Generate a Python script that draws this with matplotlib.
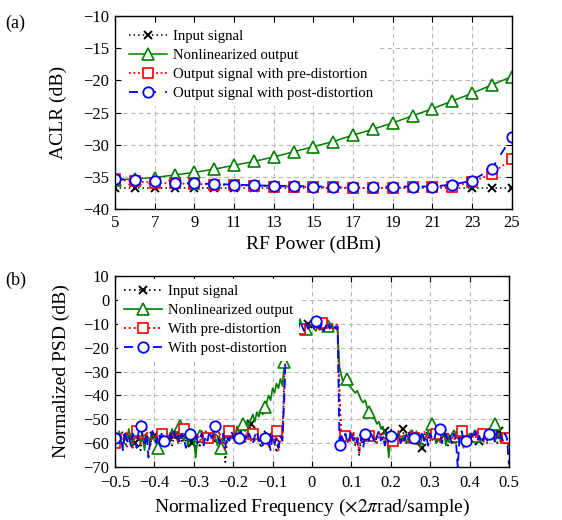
import matplotlib
matplotlib.use('Agg')
import matplotlib.pyplot as plt
import numpy as np

plt.rcParams['font.family'] = ['Liberation Serif', 'DejaVu Serif']
plt.rcParams['mathtext.fontset'] = 'stix'

# ---- (a) ACLR vs RF power ----
rf_power = list(range(5, 26))
aclr_input = [-36.8] * 21
aclr_nonlin = [-35.5, -35.3, -35.1, -34.7, -34.3, -33.8, -33.2, -32.6, -31.9, -31.1, -30.3,
               -29.5, -28.5, -27.6, -26.6, -25.5, -24.4, -23.2, -22.0, -20.7, -19.4]
aclr_pre = [-35.4, -35.7, -35.9, -36.0, -36.1, -36.2, -36.3, -36.4, -36.5, -36.5, -36.6,
            -36.6, -36.7, -36.7, -36.7, -36.6, -36.6, -36.5, -35.8, -34.5, -32.2]
aclr_post = [-35.3, -35.5, -35.7, -35.9, -36.0, -36.1, -36.2, -36.3, -36.4, -36.4, -36.5,
             -36.5, -36.6, -36.5, -36.5, -36.5, -36.5, -36.2, -35.6, -33.7, -28.8]

# ---- (b) PSD, 201 bins from -0.5 to 0.5 ----
freq = np.linspace(-0.5, 0.5, 201)
psd_input = [
    -58, -56, -61, -57, -55, -59, -62, -56, -58, -57,
    -60, -55, -58, -63, -57, -56, -59, -58, -61, -56,
    -57, -59, -55, -58, -60, -56, -54, -59, -57, -61,
    -57, -55, -58, -56, -60, -57, -59, -55, -58, -60,
    -56, -58, -57, -62, -55, -59, -57, -58, -56, -58,
    -55, -60, -57, -59, -64, -56, -68, -58, -55, -57,
    -55, -58, -56, -59, -54, -57, -60, -56, -55, -52,
    -57, -59, -56, -58, -62, -57, -55, -59, -57, -58,
    -56, -60, -64, -58, -57, -59, -30, -12, -12, -11,
    -13, -10, -12, -11, -9, -12, -10, -11, -10, -12,
    -9, -11, -12, -10, -11, -13, -10, -11, -9, -12,
    -10, -11, -12, -12, -38, -58, -56, -57, -60, -55,
    -58, -56, -61, -59, -65, -57, -58, -57, -55, -59,
    -57, -56, -60, -58, -55, -57, -59, -55, -58, -56,
    -54, -58, -57, -59, -56, -55, -54, -58, -60, -57,
    -56, -59, -57, -61, -58, -60, -62, -57, -55, -58,
    -57, -59, -56, -58, -60, -55, -56, -58, -57, -61,
    -56, -58, -59, -57, -60, -57, -55, -58, -62, -56,
    -58, -57, -60, -56, -58, -59, -57, -60, -56, -58,
    -57, -59, -56, -58, -60, -55, -57, -59, -56, -58,
    -62]
psd_nonlin = [
    -57, -60, -55, -58, -62, -56, -59, -54, -58, -61,
    -56, -58, -55, -60, -57, -63, -56, -59, -58, -55,
    -59, -57, -62, -56, -60, -58, -55, -59, -57, -54,
    -58, -56, -60, -53, -57, -59, -55, -61, -58, -56,
    -59, -66, -57, -57, -55, -60, -58, -56, -59, -57,
    -55, -58, -61, -57, -62, -56, -58, -55, -59, -56,
    -55, -57, -53, -56, -54, -52, -55, -51, -53, -50,
    -48, -51, -47, -49, -46, -48, -45, -43, -40, -42,
    -37, -39, -35, -37, -33, -36, -26, -12, -13, -11,
    -12, -10, -13, -11, -8, -12, -11, -12, -13, -11,
    -10, -12, -13, -11, -12, -10, -13, -11, -11, -12,
    -10, -12, -11, -13, -28, -32, -35, -34, -33, -36,
    -37, -38, -39, -38, -40, -42, -43, -42, -45, -47,
    -46, -49, -50, -52, -51, -54, -53, -56, -57, -66,
    -57, -59, -56, -58, -55, -60, -57, -59, -56, -58,
    -57, -57, -60, -55, -58, -62, -56, -59, -57, -55,
    -58, -52, -57, -60, -56, -59, -58, -55, -61, -57,
    -59, -56, -57, -60, -58, -56, -59, -62, -57, -58,
    -56, -59, -57, -57, -60, -58, -55, -59, -57, -56,
    -58, -55, -57, -52, -58, -56, -60, -57, -59, -58,
    -61]
psd_pre = [
    -60, -57, -59, -56, -61, -58, -55, -59, -57, -62,
    -58, -55, -57, -60, -56, -59, -54, -58, -61, -57,
    -56, -59, -57, -60, -56, -58, -55, -57, -59, -56,
    -58, -55, -60, -57, -56, -54, -58, -56, -59, -57,
    -55, -58, -56, -60, -57, -59, -55, -58, -57, -56,
    -59, -56, -58, -55, -60, -57, -63, -56, -55, -58,
    -56, -59, -54, -57, -58, -56, -60, -55, -57, -59,
    -56, -58, -55, -60, -57, -56, -59, -57, -62, -58,
    -56, -60, -55, -63, -58, -57, -35, -12, -11, -13,
    -10, -12, -11, -9, -12, -10, -11, -12, -10, -11,
    -9, -12, -10, -11, -13, -9.5, -11, -10, -12, -11,
    -10, -12, -11, -10, -45, -57, -55, -57, -59, -56,
    -58, -55, -60, -57, -64, -56, -58, -55, -57, -57,
    -56, -59, -57, -60, -55, -58, -56, -59, -57, -55,
    -58, -59, -56, -58, -55, -57, -60, -56, -58, -57,
    -55, -58, -58, -61, -56, -59, -57, -55, -58, -56,
    -59, -57, -55, -56, -58, -60, -57, -55, -59, -56,
    -58, -57, -60, -56, -58, -57, -55, -59, -56, -58,
    -57, -60, -56, -58, -55, -59, -57, -56, -58, -60,
    -56, -58, -57, -59, -55, -57, -60, -58, -56, -58,
    -63]
psd_post = [
    -58, -56, -60, -57, -63, -55, -59, -57, -61, -56,
    -58, -62, -55, -53, -57, -60, -56, -66, -58, -55,
    -57, -60, -56, -58, -55, -59, -57, -61, -56, -58,
    -55, -59, -57, -60, -56, -58, -62, -57, -56, -59,
    -57, -55, -60, -58, -56, -61, -57, -59, -55, -58,
    -56, -53, -57, -60, -58, -56, -62, -57, -59, -55,
    -57, -59, -56, -58, -55, -60, -57, -59, -56, -58,
    -60, -57, -55, -59, -57, -61, -58, -56, -59, -63,
    -57, -60, -58, -62, -57, -59, -40, -13, -14, -15,
    -11, -13, -10, -12, -9, -11, -13, -10, -12, -11,
    -10, -12, -9, -11, -12, -10, -13, -11, -9, -12,
    -11, -10, -12, -11, -61, -57, -59, -56, -60, -58,
    -55, -59, -57, -60, -56, -58, -62, -56, -57, -59,
    -56, -58, -60, -57, -55, -59, -57, -61, -56, -58,
    -57, -59, -55, -58, -56, -60, -57, -59, -56, -55,
    -58, -57, -58, -60, -56, -58, -55, -59, -57, -61,
    -56, -58, -59, -55, -57, -54, -60, -57, -56, -59,
    -57, -60, -56, -58, -70, -57, -55, -59, -59, -57,
    -60, -56, -58, -55, -59, -57, -60, -58, -56, -59,
    -56, -58, -57, -60, -55, -58, -57, -59, -56, -58,
    -69]

# marker positions (bin indices) as in the original pgfplots figure
mk_input = [10, 20, 30, 39, 49, 59, 69, 78, 88, 98, 107, 117, 127, 137, 146, 156, 166, 175, 185, 195]
mk_nonlin = [22, 33, 43, 54, 65, 76, 86, 97, 108, 118, 129, 140, 151, 161, 172, 183, 193]
mk_pre = [0, 11, 24, 35, 47, 58, 70, 82, 94, 105, 117, 129, 141, 152, 163, 176, 187, 199]
mk_post = [0, 13, 25, 38, 51, 63, 76, 89, 102, 114, 127, 140, 152, 165, 178, 190]

green = '#007f00'
fig = plt.figure(figsize=(5.62, 5.2), dpi=100)
ax1 = fig.add_axes([0.2046, 0.598, 0.706, 0.371])
ax2 = fig.add_axes([0.2046, 0.102, 0.701, 0.367])


def style_axes(ax):
    ax.grid(True, color='#b8b8b8', linestyle=(0, (4, 3)), linewidth=0.8)
    ax.set_axisbelow(True)
    ax.tick_params(direction='in', top=True, right=True, length=4, width=0.8,
                   labelsize=12, pad=4)
    for s in ax.spines.values():
        s.set_linewidth(1.0)


ax1.plot(rf_power, aclr_input, color='black', ls=(0, (1, 2)), lw=1.1, marker='x',
         ms=6, mew=1.4, label='Input signal')
ax1.plot(rf_power, aclr_nonlin, color=green, ls='-', lw=1.1, marker='^', ms=8,
         mfc='white', mec=green, mew=1.2, label='Nonlinearized output')
ax1.plot(rf_power, aclr_pre, color='red', ls=(0, (1, 1.5)), lw=1.3, marker='s', ms=7,
         mfc='white', mec='red', mew=1.2, label='Output signal with pre-distortion')
ax1.plot(rf_power, aclr_post, color='blue', ls=(0, (5, 5)), lw=1.3, marker='o', ms=7.5,
         mfc='white', mec='blue', mew=1.3, label='Output signal with post-distortion')
ax1.set_xlim(5, 25)
ax1.set_ylim(-40, -10)
ax1.set_xticks(range(5, 26, 2))
ax1.set_yticks(range(-40, -9, 5))
style_axes(ax1)
ax1.set_xlabel('RF Power (dBm)', fontsize=14, labelpad=4)
ax1.set_ylabel('ACLR (dB)', fontsize=14, labelpad=12)
leg1 = ax1.legend(loc='upper left', fontsize=10.6, frameon=True, facecolor='white',
                  edgecolor='none', framealpha=1, handlelength=2.6, numpoints=1,
                  borderaxespad=0.55, labelspacing=0.38, handletextpad=0.4)

ax2.plot(freq, psd_input, color='black', ls=(0, (1, 2)), lw=1.2, marker='x',
         markevery=mk_input, ms=6, mew=1.4, label='Input signal')
ax2.plot(freq, psd_nonlin, color=green, ls='-', lw=1.2, marker='^', markevery=mk_nonlin,
         ms=8, mfc='white', mec=green, mew=1.2, label='Nonlinearized output')
ax2.plot(freq, psd_pre, color='red', ls=(0, (1, 1.5)), lw=1.4, marker='s', markevery=mk_pre,
         ms=7, mfc='white', mec='red', mew=1.2, label='With pre-distortion')
ax2.plot(freq, psd_post, color='blue', ls=(0, (5, 3)), lw=1.3, marker='o', markevery=mk_post,
         ms=7.5, mfc='white', mec='blue', mew=1.3, label='With post-distortion')
ax2.set_xlim(-0.5, 0.5)
ax2.set_ylim(-70, 10)
xt = [round(v, 1) for v in np.arange(-0.5, 0.51, 0.1)]
ax2.set_xticks(xt)
ax2.set_xticklabels(['0' if v == 0 else f'{v:g}'.replace('-', '\u2212') for v in xt])
ax2.set_yticks(range(-70, 11, 10))
style_axes(ax2)
ax2.tick_params(axis='x', pad=6)
ax2.set_xlabel(r'Normalized Frequency ($\times 2\pi$rad/sample)', fontsize=14, labelpad=4)
ax2.set_ylabel('Normalized PSD (dB)', fontsize=14, labelpad=10)
leg2 = ax2.legend(loc='upper left', fontsize=10.6, frameon=True, facecolor='white',
                  edgecolor='none', framealpha=1, handlelength=2.6, numpoints=1,
                  borderaxespad=0.2, labelspacing=0.38, handletextpad=0.4)

fig.text(0.01, 0.955, '(a)', fontsize=13, va='center')
fig.text(0.01, 0.46, '(b)', fontsize=13, va='center')

fig.savefig('out.png', dpi=100)
